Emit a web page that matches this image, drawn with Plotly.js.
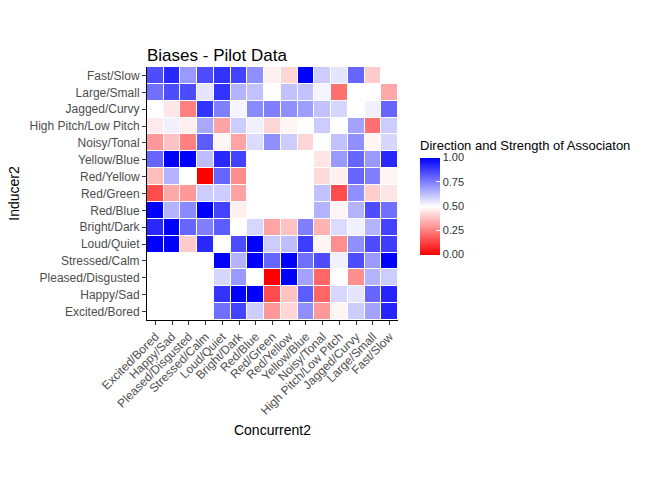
<!DOCTYPE html>
<html>
<head>
<script src="https://cdn.plot.ly/plotly-3.0.1.min.js"></script>
<style>body{margin:0}</style>
</head>
<body>
<div id="plot" style="width:672px;height:480px"></div>
<script>
const cols = ['Excited/Bored', 'Happy/Sad', 'Pleased/Disgusted', 'Stressed/Calm', 'Loud/Quiet',
    'Bright/Dark', 'Red/Blue', 'Red/Green', 'Red/Yellow', 'Yellow/Blue', 'Noisy/Tonal',
    'High Pitch/Low Pitch', 'Jagged/Curvy', 'Large/Small', 'Fast/Slow']
// rows listed top to bottom
const rows = ['Fast/Slow', 'Large/Small', 'Jagged/Curvy', 'High Pitch/Low Pitch', 'Noisy/Tonal',
    'Yellow/Blue', 'Red/Yellow', 'Red/Green', 'Red/Blue', 'Bright/Dark', 'Loud/Quiet',
    'Stressed/Calm', 'Pleased/Disgusted', 'Happy/Sad', 'Excited/Bored']
const N = null
const values = [
    [0.85, 0.92, 0.70, 0.85, 0.90, 0.87, 0.72, 0.47, 0.42, 1.00, 0.60, 0.55, 0.80, 0.40, N],
    [0.78, 0.85, 0.85, 0.55, 0.90, 0.65, 0.62, 0.50, 0.62, 0.62, 0.52, 0.22, 0.50, N, 0.33],
    [0.50, 0.45, 0.25, 0.90, 0.75, 0.52, 0.73, 0.75, 0.72, 0.69, 0.62, 0.58, N, 0.53, 0.80],
    [0.46, 0.53, 0.47, 0.67, 0.32, 0.60, 0.53, 0.42, 0.48, 0.50, 0.60, N, 0.68, 0.22, 0.60],
    [0.30, 0.38, 0.25, 0.82, 0.48, 0.32, 0.57, 0.72, 0.60, 0.42, N, 0.62, 0.72, 0.48, 0.58],
    [0.80, 1.00, 1.00, 0.63, 0.92, 0.87, N, N, N, N, 0.45, 0.70, 0.80, 0.70, 0.92],
    [0.37, 0.65, 0.50, 0.00, 0.80, 0.28, N, N, N, N, 0.43, 0.47, 0.80, 0.75, 0.48],
    [0.15, 0.33, 0.30, 0.60, 0.60, 0.32, N, N, N, N, 0.62, 0.15, 0.72, 0.40, 0.45],
    [1.00, 0.65, 0.73, 1.00, 0.87, 0.47, N, N, N, N, 0.65, 0.48, 0.65, 0.85, 0.78],
    [0.92, 1.00, 0.80, 0.75, 0.82, N, 0.58, 0.32, 0.38, 0.75, 0.35, 0.57, 0.53, 0.65, 0.87],
    [1.00, 1.00, 0.40, 0.92, N, 0.85, 1.00, 0.60, 0.63, 0.88, 0.48, 0.28, 0.72, 0.85, 0.88],
    [N, N, N, N, 1.00, 0.65, 1.00, 0.80, 1.00, 0.78, 0.85, 0.53, 0.85, 0.70, 1.00],
    [N, N, N, N, 0.58, 0.70, 0.50, 0.00, 1.00, 0.68, 0.20, 0.50, 0.28, 0.65, 0.60],
    [N, N, N, N, 0.90, 1.00, 1.00, 0.15, 0.38, 0.82, 0.20, 0.58, 0.55, 0.80, 0.93],
    [N, N, N, N, 0.78, 0.87, 0.60, 0.30, 0.42, 0.72, 0.30, 0.48, 0.60, 0.68, 0.93]
]

const trace = {
    type: 'heatmap',
    x: cols,
    y: rows,
    z: values,
    zmin: 0,
    zmax: 1,
    xgap: 1,
    ygap: 1,
    hoverongaps: false,
    colorscale: [[0, 'rgb(255,0,0)'], [0.5, 'rgb(255,255,255)'], [1, 'rgb(0,0,255)']],
    colorbar: {
        x: 1.048, xanchor: 'left',
        y: 0.49, yanchor: 'middle',
        len: 0.54, thickness: 20,
        outlinewidth: 0,
        tickvals: [0, 0.25, 0.5, 0.75, 1],
        tickformat: '.2f',
        ticks: 'inside', ticklen: 4, tickcolor: 'white',
        tickfont: {size: 11, color: '#333'},
        title: {text: 'Direction and Strength of Associaton', side: 'top', font: {size: 13, color: '#000'}}
    }
}

const layout = {
    width: 672, height: 480,
    margin: {l: 147, r: 274, t: 67, b: 160},
    paper_bgcolor: 'white', plot_bgcolor: 'white',
    font: {family: 'Liberation Sans, Arial, sans-serif'},
    title: {text: 'Biases - Pilot Data', x: 147 / 672, xanchor: 'left', y: 0.885, yanchor: 'middle', font: {size: 17, color: '#000'}},
    xaxis: {
        type: 'category', tickangle: -45, showgrid: false, zeroline: false,
        showline: true, linecolor: 'black', linewidth: 1,
        ticks: 'outside', ticklen: 4, tickcolor: '#333',
        tickfont: {size: 12, color: '#4d4d4d'},
        title: {text: 'Concurrent2', font: {size: 14, color: '#000'}, standoff: 8}
    },
    yaxis: {
        type: 'category', autorange: 'reversed', showgrid: false, zeroline: false,
        showline: true, linecolor: 'black', linewidth: 1,
        ticks: 'outside', ticklen: 4, tickcolor: '#333',
        tickfont: {size: 12, color: '#4d4d4d'},
        title: {text: 'Inducer2', font: {size: 14, color: '#000'}, standoff: 6}
    }
}

Plotly.newPlot('plot', [trace], layout, {displayModeBar: false})
</script>
</body>
</html>
